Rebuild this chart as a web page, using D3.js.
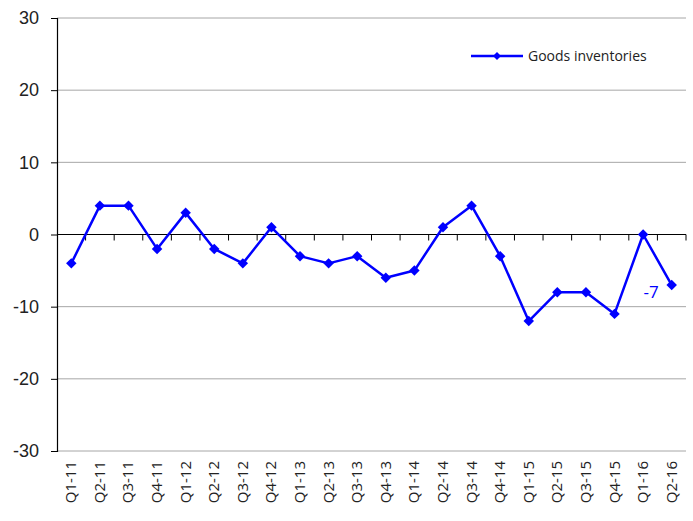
<!DOCTYPE html>
<html>
<head>
  <meta charset="utf-8">
  <script src="https://cdn.jsdelivr.net/npm/d3@7"></script>
  <style type="text/css">
    body {
      margin: 0;
      background: #fff;
      font-family: "Open Sans", "Liberation Sans", Arial, sans-serif;
    }
    .grid line {
      stroke: #a6a6a6;
      stroke-width: 1;
    }
  </style>
</head>
<body>
  <script type="text/javascript">

  const quarters = ['Q1-11','Q2-11','Q3-11','Q4-11','Q1-12','Q2-12','Q3-12','Q4-12',
    'Q1-13','Q2-13','Q3-13','Q4-13','Q1-14','Q2-14','Q3-14','Q4-14',
    'Q1-15','Q2-15','Q3-15','Q4-15','Q1-16','Q2-16'];
  const inventories = [-4, 4, 4, -2, 3, -2, -4, 1, -3, -4, -3, -6, -5, 1, 4, -3, -12, -8, -8, -11, 0, -7];
  const yTicks = [-30, -20, -10, 0, 10, 20, 30];
  const seriesName = 'Goods inventories';

  const margin = {top: 18, bottom: 70, left: 57, right: 7};
  const width = 693 - margin.left - margin.right;
  const height = 521 - margin.top - margin.bottom;
  const blue = '#0000ff';

  const svg = d3.select('body').append('svg')
              .attr('width', 693)
              .attr('height', 521);

  const g = svg.append('g')
              .attr('transform', `translate(${margin.left},${margin.top})`);

  const xscale = d3.scaleBand().domain(quarters).range([0, width]);
  const yscale = d3.scaleLinear().domain([-30, 30]).range([height, 0]);

  // horizontal gridlines
  g.append('g').attr('class', 'grid')
    .selectAll('line').data(yTicks).enter().append('line')
    .attr('x1', 0).attr('x2', width)
    .attr('y1', d => yscale(d)).attr('y2', d => yscale(d));

  // y axis (plain hyphen minus like the original)
  const g_yaxis = g.append('g')
    .call(d3.axisLeft(yscale).tickValues(yTicks).tickSize(6).tickPadding(12)
      .tickFormat(d => String(d)));
  g_yaxis.select('.domain').attr('stroke', '#000').attr('stroke-width', 1.2);
  g_yaxis.selectAll('.tick line').attr('stroke', '#000');
  g_yaxis.selectAll('text')
    .style('font-size', '18px').attr('fill', '#222');

  // zero line with category separators
  const g_zero = g.append('g').attr('transform', `translate(0,${yscale(0)})`);
  g_zero.append('line').attr('x1', 0).attr('x2', width).attr('stroke', '#000').attr('stroke-width', 1.2);
  g_zero.selectAll('.sep').data(quarters).enter().append('line')
    .attr('x1', d => xscale(d) + xscale.bandwidth())
    .attr('x2', d => xscale(d) + xscale.bandwidth())
    .attr('y1', 0).attr('y2', 6).attr('stroke', '#000');

  // category labels at the bottom
  g.append('g').selectAll('text').data(quarters).enter().append('text')
    .attr('transform', d => `translate(${xscale(d) + xscale.bandwidth() / 2 + 5},${height + 10}) rotate(-90)`)
    .attr('text-anchor', 'end')
    .style('font-size', '15px')
    .attr('fill', '#222')
    .text(d => d);

  // series line
  const line = d3.line()
    .x((d, i) => xscale(quarters[i]) + xscale.bandwidth() / 2)
    .y(d => yscale(d));

  g.append('path').datum(inventories)
    .attr('d', line)
    .attr('fill', 'none')
    .attr('stroke', blue)
    .attr('stroke-width', 2.5)
    .attr('stroke-linejoin', 'round');

  const diamond = d3.symbol().type(d3.symbolDiamond2).size(70);
  g.selectAll('.pt').data(inventories).enter().append('path')
    .attr('class', 'pt')
    .attr('d', diamond)
    .attr('transform', (d, i) => `translate(${xscale(quarters[i]) + xscale.bandwidth() / 2},${yscale(d)})`)
    .attr('fill', blue);

  // last value label
  const lastIdx = inventories.length - 1;
  g.append('text')
    .attr('x', xscale(quarters[lastIdx]) + xscale.bandwidth() / 2 - 13)
    .attr('y', yscale(inventories[lastIdx]) + 13)
    .attr('text-anchor', 'end')
    .style('font-size', '17px')
    .attr('fill', blue)
    .text(String(inventories[lastIdx]));

  // legend
  const lg = svg.append('g').attr('transform', 'translate(471,56)');
  lg.append('line').attr('x1', 0).attr('x2', 52).attr('stroke', blue).attr('stroke-width', 2.5);
  lg.append('path').attr('d', d3.symbol().type(d3.symbolDiamond2).size(40))
    .attr('transform', 'translate(26,0)').attr('fill', blue);
  lg.append('text').attr('x', 57).attr('y', 5)
    .style('font-size', '14px').attr('fill', '#222')
    .text(seriesName);

  </script>
</body>
</html>
